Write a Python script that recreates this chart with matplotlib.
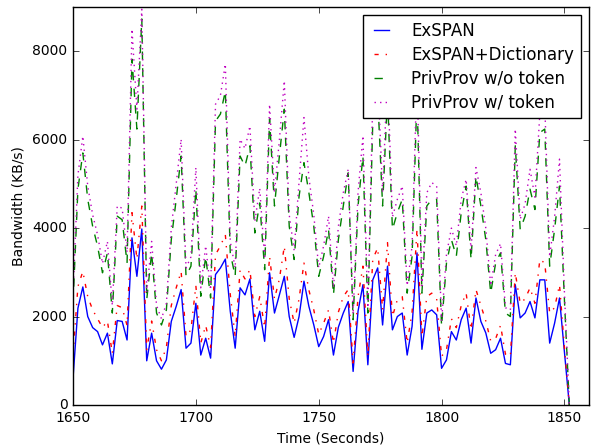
import matplotlib
matplotlib.use("Agg")
import matplotlib.pyplot as plt
import numpy as np

# sample times, one every 2 seconds
t_start = 1650
t_step = 2

exspan = [600, 2190, 2670, 2000, 1750, 1660, 1360, 1625, 930, 1910,
          1890, 1470, 3780, 2910, 3980, 1000, 1625, 1000, 810, 1020,
          1890, 2230, 2610, 1285, 1400, 2300, 1130, 1510, 1060, 2950,
          3100, 3300, 2120, 1285, 2650, 2490, 2850, 1700, 2120, 1440,
          2990, 2080, 2490, 2910, 2000, 1530, 2000, 2800, 2230, 1810,
          1320, 1550, 1930, 1130, 1760, 2080, 2340, 760, 2120, 2720,
          910, 2830, 3100, 1810, 3140, 1700, 2000, 2080, 1130, 1780,
          3440, 1260, 2080, 2150, 2040, 830, 1020, 1660, 1470, 1930,
          2190, 1400, 2420, 1890, 1630, 1170, 1250, 1510, 940, 910,
          2720, 1970, 2080, 2340, 1970, 2830, 2830, 1400, 1850, 2420,
          1200, 0]

exspan_dict = [1130, 2680, 3020, 2450, 2150, 1950, 1750, 1900, 1170, 2250,
               2200, 1800, 4350, 3300, 4500, 1250, 1900, 1250, 1000, 1300,
               2250, 2650, 3020, 1550, 1700, 2700, 1400, 1800, 1300, 3400,
               3600, 3850, 2500, 1550, 3050, 2850, 3060, 2000, 2450, 1750,
               3360, 2400, 2850, 3590, 2400, 1850, 2400, 3210, 2600, 2150,
               1600, 1850, 2150, 1400, 2100, 2450, 2610, 950, 2450, 3140,
               1100, 3300, 3550, 2150, 3670, 2000, 2380, 2450, 1400, 2100,
               3970, 1550, 2450, 2530, 2400, 1100, 1250, 1950, 1750, 2250,
               2530, 1700, 2610, 2250, 1900, 1450, 1500, 1800, 1150, 1100,
               2990, 2300, 2400, 2650, 2300, 3290, 3210, 2080, 2200, 2720,
               1300, 0]

privprov_no_token = [2300, 4880, 5700, 4650, 4040, 3590, 2990, 3440, 2080, 4270,
                     4190, 3210, 7820, 6240, 8730, 2380, 3440, 2080, 1810, 2150,
                     3740, 4650, 5630, 2910, 3140, 4880, 2460, 3360, 2420, 6420,
                     6580, 7100, 3440, 2910, 5630, 5400, 5860, 3890, 4570, 3060,
                     6470, 4500, 5630, 6690, 4040, 3290, 4720, 5480, 4800, 4040,
                     2910, 3360, 3970, 2490, 3740, 4500, 5250, 1930, 4500, 5630,
                     2080, 6400, 7000, 4500, 7000, 3970, 4350, 4650, 2530, 3360,
                     7000, 2530, 4500, 4650, 4650, 1780, 3210, 3740, 3360, 4350,
                     4950, 3290, 5180, 4500, 3740, 2530, 3210, 3440, 2080, 2000,
                     5860, 3970, 4270, 4880, 4420, 6160, 6240, 3140, 3970, 4950,
                     2380, 0]

privprov_token = [2500, 5200, 6080, 4950, 4300, 3850, 3200, 3700, 2250, 4500,
                  4450, 3450, 8500, 6690, 8950, 2550, 3700, 2250, 1950, 2300,
                  4000, 5000, 6010, 3100, 3350, 5370, 2650, 3600, 2600, 6800,
                  7000, 7710, 3700, 3100, 6010, 5800, 6310, 4150, 4900, 3300,
                  6800, 4800, 6000, 7330, 4300, 3500, 5050, 6500, 5150, 4300,
                  3100, 3600, 4270, 2650, 4040, 4800, 5330, 2050, 4800, 6090,
                  2200, 6900, 7500, 4800, 7500, 4250, 4650, 4950, 2700, 3600,
                  7500, 2700, 4800, 5030, 4950, 1900, 3400, 4000, 3600, 4650,
                  5100, 3500, 5370, 4800, 4000, 2700, 3400, 3650, 2200, 2150,
                  6240, 4200, 4550, 5330, 4700, 6600, 6800, 3350, 4250, 5560,
                  2550, 0]

labels = ["ExSPAN", "ExSPAN+Dictionary", "PrivProv w/o token", "PrivProv w/ token"]

plt.style.use("classic")
plt.rcParams["figure.facecolor"] = "white"
plt.rcParams["font.family"] = "DejaVu Sans"

t = t_start + t_step * np.arange(len(exspan))

fig = plt.figure(figsize=(5.95, 4.46), dpi=100)
ax = fig.add_axes([0.1227, 0.0919, 0.8672, 0.8924])

ax.plot(t, exspan, "b-", label=labels[0])
ax.plot(t, exspan_dict, "r-.", label=labels[1])
ax.plot(t, privprov_no_token, "g--", label=labels[2])
ax.plot(t, privprov_token, "m:", label=labels[3])

ax.set_xlim(1650, 1860)
ax.set_ylim(0, 9000)
ax.set_xticks([1650, 1700, 1750, 1800, 1850])
ax.set_yticks([0, 2000, 4000, 6000, 8000])
ax.tick_params(labelsize=10)
ax.set_xlabel("Time (Seconds)", fontsize=10)
ax.set_ylabel("Bandwidth (KB/s)", fontsize=10)

ax.legend(loc="upper right", fontsize=12, labelspacing=0.35, borderpad=0.4,
          handlelength=1.5, handletextpad=1.0)

fig.savefig("out.png", dpi=100)
